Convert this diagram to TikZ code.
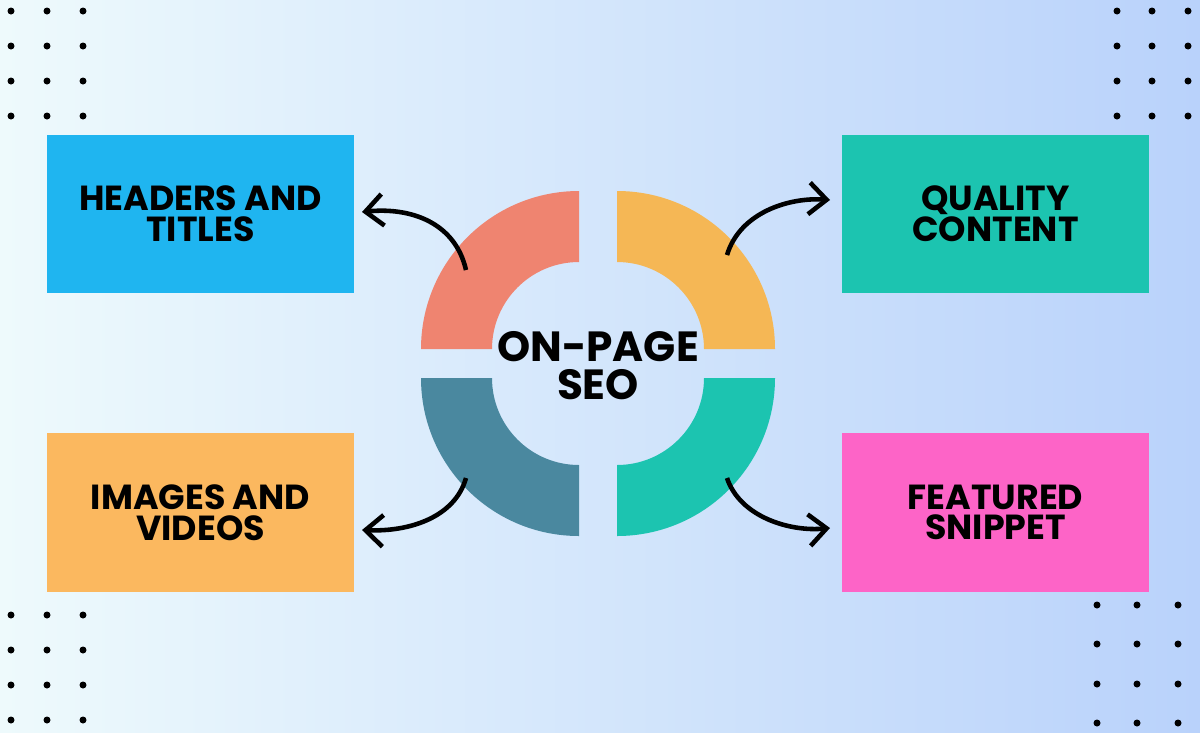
\documentclass[tikz,border=0pt]{standalone}
\usepackage{fontspec}
\setmainfont{Poppins}
\usetikzlibrary{arrows.meta}
\definecolor{bgleft}{HTML}{EEFAFC}
\definecolor{bgright}{HTML}{B9D2FB}
\definecolor{hdblue}{HTML}{1FB5F0}
\definecolor{qcteal}{HTML}{1CC4B0}
\definecolor{ivorange}{HTML}{FBB85F}
\definecolor{fspink}{HTML}{FD64C7}
\definecolor{rsalmon}{HTML}{EF8470}
\definecolor{ryellow}{HTML}{F5B755}
\definecolor{rslate}{HTML}{4A889F}
\definecolor{rteal}{HTML}{1CC4B0}
\tikzset{
  topic/.style={minimum width=3.07cm, minimum height=1.58cm, inner sep=0pt, align=center,
    font=\fontsize{9.9}{8.7}\selectfont\bfseries},
  link/.style={line width=1.3pt, -{Straight Barb[length=5pt, width=9pt]}},
  dot/.style={fill=black}
}
\begin{document}
\begin{tikzpicture}[x=0.01cm, y=0.01cm]
    \shade[left color=bgleft, right color=bgright] (0,0) rectangle (1200,732);
    \useasboundingbox (0,0) rectangle (1200,732);
    % dots
    \foreach \x in {11,47,83} \foreach \y in {721,686,651,616} \fill[dot] (\x,\y) circle (3.5);
    \foreach \x in {1117,1152,1188} \foreach \y in {721,686,651,616} \fill[dot] (\x,\y) circle (3.5);
    \foreach \x in {11,47,83} \foreach \y in {117,82,47,12} \fill[dot] (\x,\y) circle (3.5);
    \foreach \x in {1097,1137,1178} \foreach \y in {127,88,48,9} \fill[dot] (\x,\y) circle (3.5);
    % boxes
    \node[topic, fill=hdblue] (HT) at (200.5,518) {HEADERS AND\\TITLES};
    \node[topic, fill=qcteal] (QC) at (995.5,518) {QUALITY\\CONTENT};
    \node[topic, fill=ivorange] (IV) at (200.5,219.5) {IMAGES AND\\VIDEOS};
    \node[topic, fill=fspink] (FS) at (995.5,219.5) {FEATURED\\SNIPPET};
    % ring
    \fill[rsalmon] (579,541) arc[start angle=90, end angle=180, radius=158] -- (492,383) arc[start angle=180, end angle=90, radius=87] -- cycle;
    \fill[ryellow] (617,541) arc[start angle=90, end angle=0, radius=158] -- (704,383) arc[start angle=0, end angle=90, radius=87] -- cycle;
    \fill[rslate] (579,196) arc[start angle=270, end angle=180, radius=158] -- (492,354) arc[start angle=180, end angle=270, radius=87] -- cycle;
    \fill[rteal] (617,196) arc[start angle=270, end angle=360, radius=158] -- (704,354) arc[start angle=0, end angle=-90, radius=87] -- cycle;
    \node[align=center, font=\fontsize{12}{10.8}\selectfont\bfseries] (SEO) at (598,366) {ON-PAGE\\SEO};
    % arrows
    \coordinate (tl) at (466,462);
    \coordinate (tr) at (727,477);
    \coordinate (bl) at (466,254);
    \coordinate (br) at (727,254);
    \coordinate (HTend) at (362,520);
    \coordinate (QCend) at (830,532);
    \coordinate (IVend) at (362,202);
    \coordinate (FSend) at (830,204);
    \draw[link] (tl) .. controls (455,510) and (410,525) .. (HTend);
    \draw[link] (tr) .. controls (740,520) and (790,535) .. (QCend);
    \draw[link] (bl) .. controls (455,215) and (410,200) .. (IVend);
    \draw[link] (br) .. controls (740,215) and (790,200) .. (FSend);
\end{tikzpicture}
\end{document}
